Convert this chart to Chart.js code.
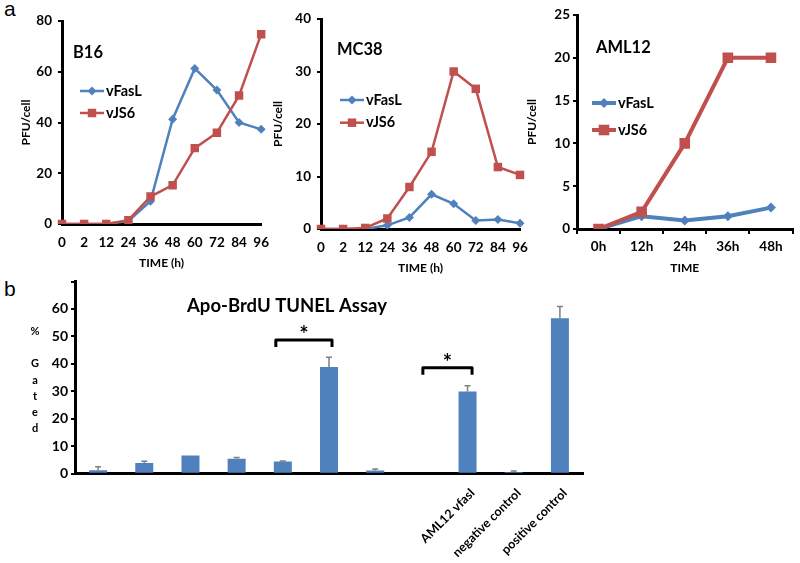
<!DOCTYPE html>
<html>
<head>
<meta charset="utf-8">
<script src="https://cdn.jsdelivr.net/npm/chart.js@4.4.0/dist/chart.umd.min.js"></script>
<style>
  body { margin: 0; background: #fff; width: 800px; height: 563px; position: relative; overflow: hidden; }
  canvas { position: absolute; }
  .panel { position: absolute; font-family: Arial, "Liberation Sans", sans-serif; font-size: 21px; color: #000; }
</style>
</head>
<body>
<div class="panel" style="left:4px;top:-3px">a</div>
<div class="panel" style="left:4px;top:277px">b</div>
<canvas id="b16Chart" width="275" height="275" style="left:0;top:0"></canvas>
<canvas id="mc38Chart" width="265" height="280" style="left:270px;top:0"></canvas>
<canvas id="amlChart" width="275" height="280" style="left:525px;top:0"></canvas>
<canvas id="tunelChart" width="600" height="293" style="left:0;top:270px"></canvas>
<script>
// data
const hourLabels = ["0", "2", "12", "24", "36", "48", "60", "72", "84", "96"];
const b16Fasl = [0, 0, 0, 1.2, 9, 41.3, 61.3, 52.8, 40, 37.3];
const b16Js6 = [0, 0, 0, 1.5, 10.8, 15.3, 29.9, 36, 50.6, 74.8];
const mc38Fasl = [0, 0, 0, 0.7, 2.2, 6.6, 4.8, 1.6, 1.8, 1.1];
const mc38Js6 = [0, 0, 0.2, 2, 8, 14.7, 30, 26.7, 11.8, 10.3];
const amlLabels = ["0h", "12h", "24h", "36h", "48h"];
const amlFasl = [0, 1.5, 1, 1.5, 2.5];
const amlJs6 = [0, 2, 10, 20, 20];
const tunelLabels = ["", "", "", "", "", "", "", "", "AML12 vfasl", "negative control", "positive control"];
const tunelValues = [1.3, 3.9, 6.6, 5.4, 4.4, 38.9, 1.2, null, 29.9, 0.6, 56.6];
const tunelErrors = [1.2, 0.6, 0, 0.5, 0.2, 3.5, 0.5, null, 2.1, 0.4, 4.3];

const BLUE = "#4F81BD";
const RED = "#C0504D";
const FONT = "Lato, 'Liberation Sans', sans-serif";
const tickFont = { family: FONT, size: 13.5, weight: "bold" };
const titleFont = { family: FONT, size: 12, weight: "bold" };
Chart.defaults.color = "#000";

function marker(ctx, style, r, x, y) {
  ctx.beginPath();
  if (style === "rect") {
    const s = r * Math.SQRT1_2;
    ctx.rect(x - s, y - s, 2 * s, 2 * s);
  } else {
    ctx.moveTo(x - r, y);
    ctx.lineTo(x, y - r);
    ctx.lineTo(x + r, y);
    ctx.lineTo(x, y + r);
    ctx.closePath();
  }
  ctx.fill();
}

// cell-line name + legend drawn inside the plot
function lineDecor(cfg) {
  return {
    id: "lineDecor",
    afterDatasetsDraw(chart) {
      const ctx = chart.ctx;
      ctx.save();
      ctx.fillStyle = "#000";
      ctx.textBaseline = "middle";
      ctx.font = "bold 16.5px " + FONT;
      ctx.fillText(cfg.name, cfg.nameX, cfg.nameY);
      chart.data.datasets.forEach((ds, i) => {
        const y = cfg.legY + i * cfg.legGap;
        ctx.strokeStyle = ds.borderColor;
        ctx.lineWidth = ds.borderWidth;
        ctx.beginPath();
        ctx.moveTo(cfg.legX, y);
        ctx.lineTo(cfg.legX + 24, y);
        ctx.stroke();
        ctx.fillStyle = ds.backgroundColor;
        marker(ctx, ds.pointStyle, ds.pointRadius, cfg.legX + 12, y);
        ctx.fillStyle = "#000";
        ctx.font = "bold 14.5px " + FONT;
        ctx.fillText(ds.label, cfg.legX + 26, y);
      });
      ctx.restore();
    },
  };
}

function lineChart(id, cfg) {
  return new Chart(document.getElementById(id), {
    type: "line",
    data: {
      labels: cfg.labels,
      datasets: [
        {
          label: "vFasL",
          data: cfg.fasl,
          borderColor: BLUE,
          backgroundColor: BLUE,
          borderWidth: cfg.lw,
          pointStyle: "rectRot",
          pointRadius: cfg.diamond,
          pointBorderWidth: 0,
          order: 1,
        },
        {
          label: "vJS6",
          data: cfg.js6,
          borderColor: RED,
          backgroundColor: RED,
          borderWidth: cfg.lw,
          pointStyle: "rect",
          pointRadius: cfg.square,
          pointBorderWidth: 0,
          order: 0,
        },
      ],
    },
    options: {
      responsive: false,
      animation: false,
      layout: { padding: { left: 0, top: cfg.top, right: cfg.right, bottom: 0 } },
      plugins: { legend: { display: false }, tooltip: { enabled: false } },
      scales: {
        x: {
          offset: cfg.offset,
          grid: { display: cfg.offset, offset: true, drawOnChartArea: false, tickLength: 5, color: "#000", lineWidth: 2 },
          border: { color: "#000", width: 3 },
          ticks: { font: tickFont, padding: cfg.xPad, maxRotation: 0, autoSkip: false },
          title: { display: true, text: cfg.xTitle, font: titleFont, padding: { top: 0, bottom: 5 } },
          afterFit: (s) => { s.height = cfg.xH; },
        },
        y: {
          min: 0,
          max: cfg.max,
          ticks: { stepSize: cfg.step, font: tickFont, padding: cfg.yPad },
          grid: { drawOnChartArea: false, tickLength: 4, color: "#000", lineWidth: 2 },
          border: { color: "#000", width: 3 },
          title: { display: true, text: "PFU/cell", font: titleFont, padding: { top: cfg.yTitlePad, bottom: 0 } },
          afterFit: (s) => { s.width = cfg.yW; },
        },
      },
    },
    plugins: [lineDecor(cfg)],
  });
}

// B16
lineChart("b16Chart", {
  labels: hourLabels, fasl: b16Fasl, js6: b16Js6,
  max: 80, step: 20, lw: 2.5, diamond: 4.5, square: 6,
  top: 21, right: 12, yW: 62, xH: 51, xPad: 6, yPad: 6, yTitlePad: 19, offset: false,
  xTitle: "TIME (h)",
  name: "B16", nameX: 73, nameY: 53, legX: 80, legY: 91, legGap: 22,
});

// MC38
lineChart("mc38Chart", {
  labels: hourLabels, fasl: mc38Fasl, js6: mc38Js6,
  max: 40, step: 10, lw: 2.5, diamond: 4.5, square: 6,
  top: 19, right: 15, yW: 51, xH: 51, xPad: 6, yPad: 6, yTitlePad: 1, offset: false,
  xTitle: "TIME (h)",
  name: "MC38", nameX: 67, nameY: 50, legX: 70, legY: 100, legGap: 22.7,
});

// AML12
lineChart("amlChart", {
  labels: amlLabels, fasl: amlFasl, js6: amlJs6,
  max: 25, step: 5, lw: 4, diamond: 5, square: 7.5,
  top: 15, right: 4, yW: 52, xH: 51, xPad: 5, yPad: 3, yTitlePad: 0, offset: true,
  xTitle: "TIME",
  name: "AML12", nameX: 71, nameY: 48, legX: 67, legY: 103, legGap: 27,
});

// TUNEL bar chart extras: title, stacked y label, brackets, error bars
const tunelDecor = {
  id: "tunelDecor",
  afterDatasetsDraw(chart) {
    const ctx = chart.ctx;
    const x = chart.scales.x;
    const y = chart.scales.y;
    ctx.save();
    // error bars
    ctx.strokeStyle = "#7F7F7F";
    ctx.lineWidth = 1.5;
    tunelErrors.forEach((e, i) => {
      if (!e) return;
      const px = x.getPixelForValue(i);
      const y0 = y.getPixelForValue(tunelValues[i]);
      const y1 = y.getPixelForValue(tunelValues[i] + e);
      ctx.beginPath();
      ctx.moveTo(px, y0);
      ctx.lineTo(px, y1);
      ctx.moveTo(px - 3, y1);
      ctx.lineTo(px + 3, y1);
      ctx.stroke();
    });
    // title
    ctx.fillStyle = "#000";
    ctx.textAlign = "center";
    ctx.textBaseline = "middle";
    ctx.font = "bold 18.5px " + FONT;
    ctx.fillText("Apo-BrdU TUNEL Assay", 287, 36);
    // stacked y label
    ctx.font = "bold 11px " + FONT;
    [["%", 61], ["G", 93], ["a", 110], ["t", 126], ["e", 142], ["d", 158]].forEach(([t, ty]) => {
      ctx.fillText(t, 35, ty);
    });
    // significance brackets
    const sig = [
      { from: 4, to: 5, level: 48.7, dl: -7, dr: 3 },
      { from: 7, to: 8, level: 38.6, dl: 1.5, dr: 4.5 },
    ];
    ctx.strokeStyle = "#000";
    ctx.lineWidth = 3;
    ctx.lineJoin = "round";
    sig.forEach((s) => {
      const x1 = x.getPixelForValue(s.from) + s.dl;
      const x2 = x.getPixelForValue(s.to) + s.dr;
      const yt = y.getPixelForValue(s.level);
      ctx.beginPath();
      ctx.moveTo(x1, yt + 7);
      ctx.lineTo(x1, yt);
      ctx.lineTo(x2, yt);
      ctx.lineTo(x2, yt + 7);
      ctx.stroke();
      ctx.font = "bold 22px " + FONT;
      ctx.fillText("*", (x1 + x2) / 2, yt - 5);
    });
    ctx.restore();
  },
};

new Chart(document.getElementById("tunelChart"), {
  type: "bar",
  data: {
    labels: tunelLabels,
    datasets: [
      {
        data: tunelValues,
        backgroundColor: BLUE,
        categoryPercentage: 1,
        barPercentage: 0.39,
      },
    ],
  },
  options: {
    responsive: false,
    animation: false,
    layout: { padding: { left: 0, top: 11.5, right: 17, bottom: 0 } },
    plugins: { legend: { display: false }, tooltip: { enabled: false } },
    scales: {
      x: {
        grid: { display: false },
        border: { color: "#000", width: 3 },
        ticks: { font: { family: FONT, size: 12.5, weight: "bold" }, minRotation: 45, maxRotation: 45, autoSkip: false, padding: 4, labelOffset: 5 },
        afterFit: (s) => { s.height = 89.3; },
      },
      y: {
        min: 0,
        max: 70,
        ticks: { stepSize: 10, font: { family: FONT, size: 14, weight: "bold" }, padding: 3, callback: (v) => (v === 70 ? "" : v) },
        grid: { drawOnChartArea: false, tickLength: 4, color: "#000", lineWidth: 2 },
        border: { color: "#000", width: 3 },
        afterFit: (s) => { s.width = 75; },
      },
    },
  },
  plugins: [tunelDecor],
});
</script>
</body>
</html>
